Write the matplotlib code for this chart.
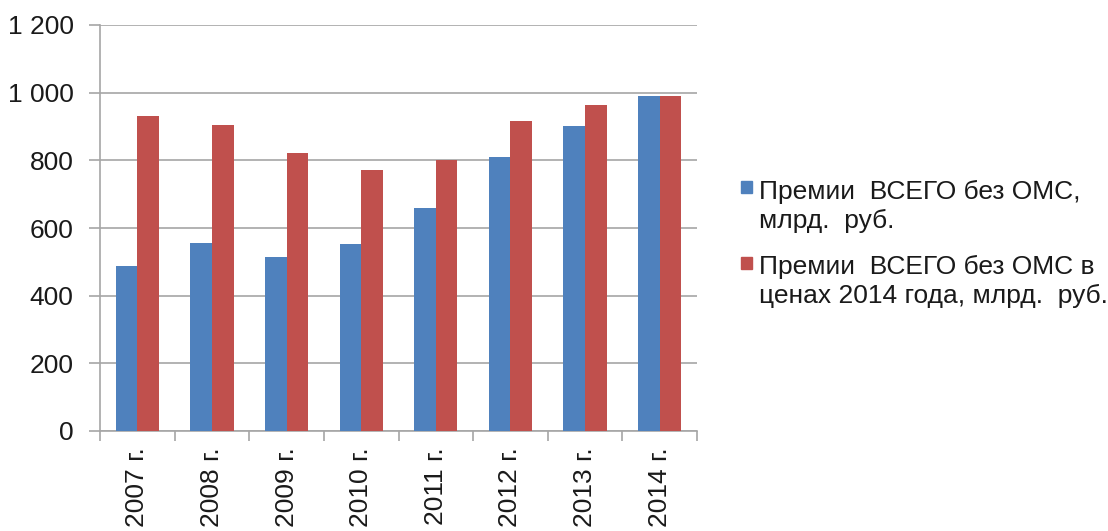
import matplotlib
matplotlib.use("Agg")
import matplotlib.pyplot as plt
import numpy as np
from matplotlib.patches import Rectangle

plt.rcParams['font.family'] = ['Liberation Sans', 'DejaVu Sans']

years = ["2007 г.", "2008 г.", "2009 г.", "2010 г.", "2011 г.", "2012 г.", "2013 г.", "2014 г."]
premiums_nominal = [488, 556, 514, 552, 658, 810, 900, 989]
premiums_2014_prices = [932, 905, 822, 772, 800, 916, 963, 989]
series_labels = [
    ["Премии  ВСЕГО без ОМС,", "млрд.  руб."],
    ["Премии  ВСЕГО без ОМС в", "ценах 2014 года, млрд.  руб."],
]
yticks = [0, 200, 400, 600, 800, 1000, 1200]
ytick_labels = ["0", "200", "400", "600", "800", "1 000", "1 200"]

blue = "#4F81BD"
red = "#C0504D"
grid_gray = "#a6a6a6"
fs = 19

fig = plt.figure(figsize=(11.08, 5.31), dpi=100)
ax = fig.add_axes([100 / 1108, 1 - 431 / 531, 597 / 1108, 406 / 531])

x = np.arange(len(years))
w = 0.29
ax.bar(x - w / 2, premiums_nominal, width=w, color=blue, zorder=3)
ax.bar(x + w / 2, premiums_2014_prices, width=w, color=red, zorder=3)

ax.set_xlim(-0.5, len(years) - 0.5)
ax.set_ylim(0, 1200)
ax.set_yticks(yticks)
ax.set_yticklabels(ytick_labels, fontsize=fs, color="#1a1a1a")
ax.yaxis.grid(True, color=grid_gray, linewidth=1.2, zorder=0)
ax.set_axisbelow(True)

# category labels centred under each pair, ticks between categories
ax.set_xticks(x)
ax.set_xticklabels(years, rotation=90, fontsize=fs, color="#1a1a1a")
ax.tick_params(axis='x', length=0, pad=12)
ax.set_xticks(np.arange(-0.5, len(years)), minor=True)
ax.tick_params(axis='x', which='minor', length=7, width=1.2, color=grid_gray, direction='out')
ax.tick_params(axis='y', length=8, width=1.2, color=grid_gray, direction='out', pad=11)

for s in ['top', 'right']:
    ax.spines[s].set_visible(False)
for s in ['left', 'bottom']:
    ax.spines[s].set_color(grid_gray)
    ax.spines[s].set_linewidth(1.2)

# legend drawn beside the plot
entries = [(blue, 181.5, series_labels[0]), (red, 256.5, series_labels[1])]
for color, top, lines in entries:
    fig.patches.append(Rectangle((741 / 1108, 1 - (top + 12) / 531), 11 / 1108, 12 / 531,
                                 transform=fig.transFigure, color=color, figure=fig))
    for i, line in enumerate(lines):
        base = top + 17.5 + i * 29.5
        fig.text(759 / 1108, 1 - base / 531, line, fontsize=fs, color="#1a1a1a",
                 va='baseline', ha='left')

fig.savefig("out.png", dpi=100)
